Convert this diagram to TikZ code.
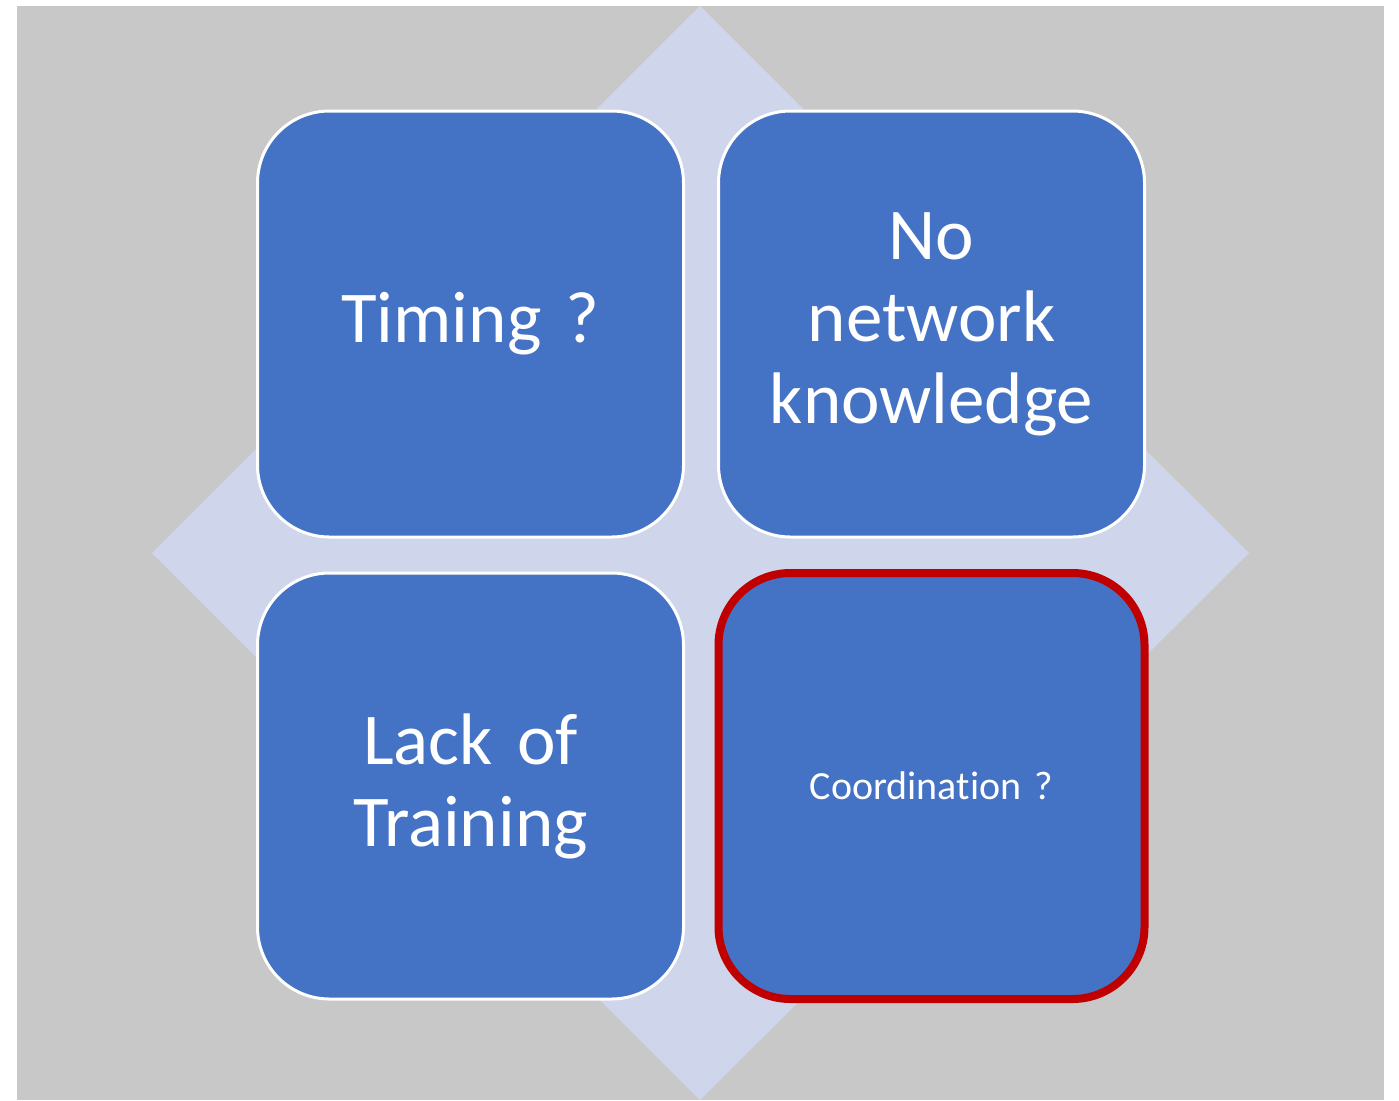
\documentclass[tikz,border=0pt]{standalone}
\usepackage{fontspec}
\setmainfont{Carlito}[Ligatures=NoCommon]
\definecolor{bggrey}{HTML}{C8C8C8}
\definecolor{diam}{HTML}{CFD5EA}
\definecolor{boxblue}{HTML}{4472C4}
\definecolor{boxred}{HTML}{C00000}
\tikzset{
  quad/.style={draw=white, line width=3bp, fill=boxblue, rounded corners=72bp,
    minimum width=426bp, minimum height=426bp, inner sep=0pt, text=white,
    align=center, text width=410bp},
  bigtxt/.style={font=\fontsize{73bp}{82bp}\selectfont},
  smalltxt/.style={font=\fontsize{40bp}{48bp}\selectfont},
  hilite/.style={draw=boxred, line width=8bp}
}
\begin{document}
\begin{tikzpicture}[x=1bp,y=-1bp]
\useasboundingbox (0,0) rectangle (1399,1100);
\fill[bggrey] (17,6) rectangle (1384,1100);
\fill[diam] (700,6) -- (1249,553) -- (700,1100) -- (152,553) -- cycle;
\node[quad,bigtxt] (timing) at (470.5,324) {Timing ?};
\node[quad,bigtxt] (network) at (931.5,324) {No\\network\\knowledge};
\node[quad,bigtxt] (training) at (470.5,786) {Lack of\\Training};
\node[quad,smalltxt,hilite] (coord) at (931.5,786) {Coordination ?};
\end{tikzpicture}
\end{document}
